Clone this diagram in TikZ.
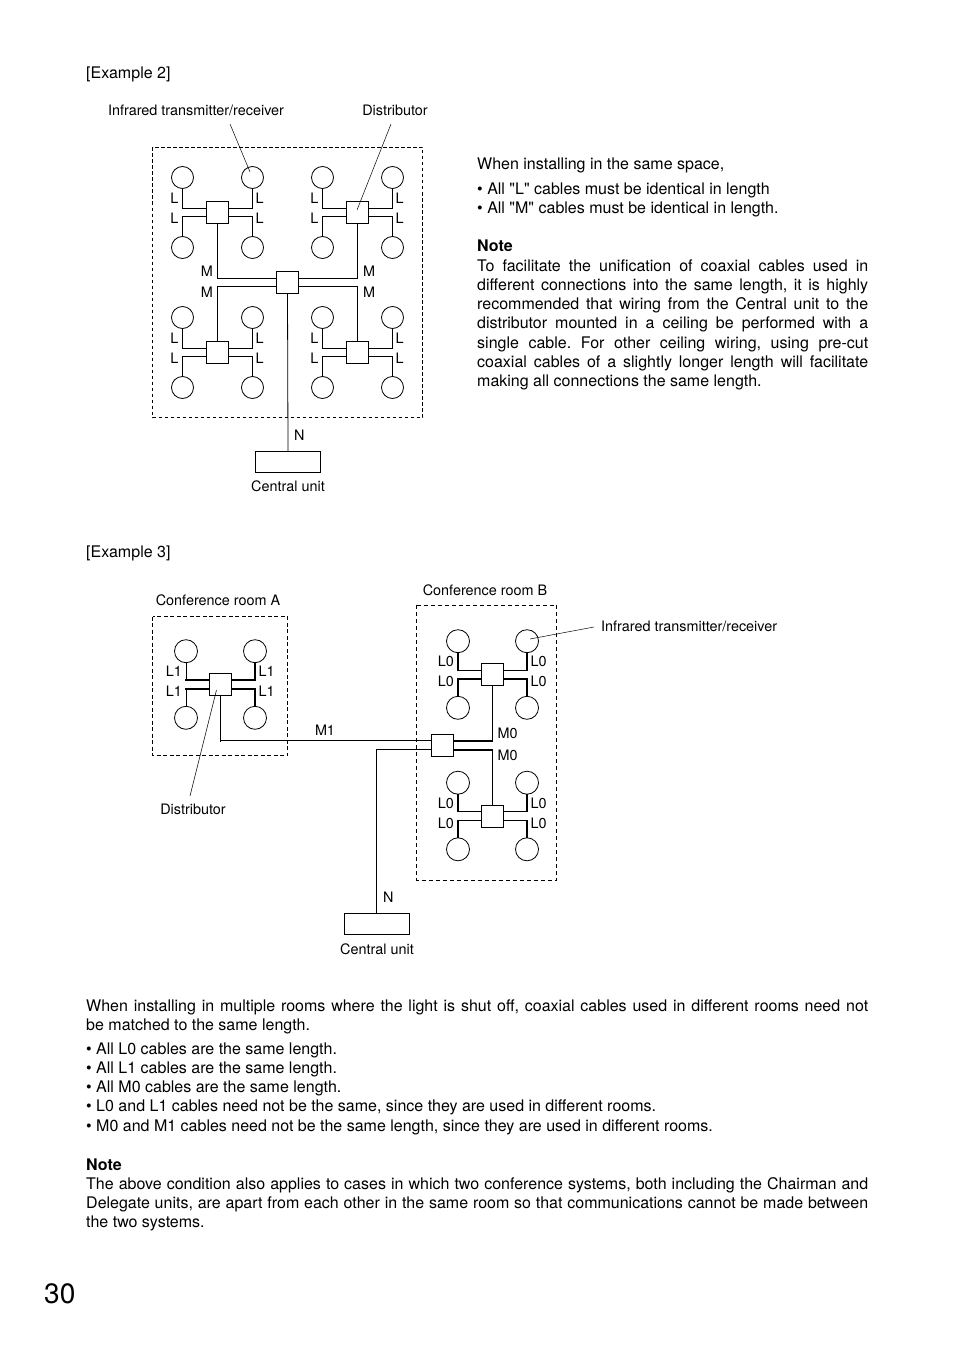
\documentclass[tikz,border=0pt]{standalone}
\usepackage{fontspec}
\setmainfont{TeX Gyre Heros}
\usetikzlibrary{positioning}
\frenchspacing
\begin{document}
\begin{tikzpicture}[x=1pt,y=-1pt,
  ir/.style={draw,circle,minimum size=22pt,inner sep=0pt,line width=0.8pt},
  irb/.style={ir,minimum size=23pt},
  dist/.style={draw,minimum size=22pt,inner sep=0pt,line width=0.8pt},
  cunit/.style={draw,minimum width=65pt,minimum height=21pt,inner sep=0pt,line width=0.8pt},
  thk/.style={line width=1.7pt,line cap=rect},
  thn/.style={line width=0.8pt},
  ptr/.style={line width=0.5pt},
  lbl/.style={inner sep=0pt,font=\fontsize{14.4}{17}\selectfont},
  body/.style={inner sep=0pt,font=\fontsize{16}{19.3}\selectfont\frenchspacing,anchor=base west},
  room/.style={dash pattern=on 3.5pt off 2.5pt,line width=1.2pt},
  rooma/.style={dash pattern=on 4pt off 2.5pt,line width=1.8pt},
  roomb/.style={dash pattern=on 4pt off 3pt,line width=0.8pt}]
\useasboundingbox (0,0) rectangle (954,1351);

% Example 2
\node[body] (ex2) at (86,79) {[Example 2]};
\node[lbl,anchor=base] (e2irlab) at (196,116) {Infrared transmitter/receiver};
\node[lbl,anchor=base] (e2dlab) at (395,116) {Distributor};
\draw[room] (152.5,147.5) rectangle (422.5,417.5);

\foreach \k/\x/\y in {a/217.5/212.5,b/357.5/212.5,c/217.5/352.5,d/357.5/352.5}{
  \node[dist] (\k0) at (\x,\y) {};
  \node[ir] (\k1) at (\x-35,\y-35) {};
  \node[ir] (\k2) at (\x+35,\y-35) {};
  \node[ir] (\k3) at (\x-35,\y+35) {};
  \node[ir] (\k4) at (\x+35,\y+35) {};
  \coordinate (\k U) at ([yshift=4pt]\k0.center);
  \coordinate (\k D) at ([yshift=-4pt]\k0.center);
  \draw[thk] (\k1.south) |- (\k U -| \k0.west);
  \draw[thk] (\k2.south) |- (\k U -| \k0.east);
  \draw[thk] (\k3.north) |- (\k D -| \k0.west);
  \draw[thk] (\k4.north) |- (\k D -| \k0.east);
  \node[lbl,anchor=east] (\k L1) at (\x-39,\y-14) {L};
  \node[lbl,anchor=east] (\k L3) at (\x-39,\y+6) {L};
  \node[lbl,anchor=west] (\k L2) at (\x+38,\y-14) {L};
  \node[lbl,anchor=west] (\k L4) at (\x+38,\y+6) {L};
}

\node[dist] (e2m) at (287.5,282.5) {};
\coordinate (mU) at ([yshift=4pt]e2m.center);
\coordinate (mD) at ([yshift=-4pt]e2m.center);
\draw[thn] (a0.south) -- (a0.south |- mU);
\draw[thk] (a0.south |- mU) -- (mU -| e2m.west);
\draw[thn] (b0.south) -- (b0.south |- mU);
\draw[thk] (b0.south |- mU) -- (mU -| e2m.east);
\draw[thk] (c0.north) |- (mD -| e2m.west);
\draw[thn] (d0.north) -- (d0.north |- mD);
\draw[thk] (d0.north |- mD) -- (mD -| e2m.east);
\node[lbl,anchor=east] (mla) at (213,271.5) {M};
\node[lbl,anchor=east] (mlc) at (213,292.3) {M};
\node[lbl,anchor=west] (mlb) at (363,271.5) {M};
\node[lbl,anchor=west] (mld) at (363,292.3) {M};

\node[cunit] (cu2) at (288,461.7) {};
\draw[thn] (e2m.south) -- (cu2.north);
\node[lbl,anchor=west] (n2) at (294,435) {N};
\node[lbl,anchor=base] (cu2lab) at (288,491) {Central unit};

\coordinate (e2irp) at (230,124);
\draw[ptr] (e2irp) -- ([shift={(-2.5pt,5.5pt)}]a2.center);
\coordinate (e2dp) at (391,124);
\draw[ptr] (e2dp) -- ([shift={(-0.5pt,2.5pt)}]b0.center);

% text beside example 2
\node[body] (t1) at (477,170) {When installing in the same space,};
\node[body] (t2) at (477,194) {• All \textquotedbl L\textquotedbl{} cables must be identical in length};
\node[body] (t3) at (477,213) {• All \textquotedbl M\textquotedbl{} cables must be identical in length.};
\node[body,font=\fontsize{16}{19.3}\selectfont\bfseries] (t4) at (477,251) {Note};
\node[body,text width=391pt,align=justify] (t5) at (477,271) {To facilitate the unification of coaxial cables used in\linebreak
 different connections into the same length, it is highly\linebreak
 recommended that wiring from the Central unit to the\linebreak
 distributor mounted in a ceiling be performed with a\linebreak
 single cable. For other ceiling wiring, using pre-cut\linebreak
 coaxial cables of a slightly longer length will facilitate\linebreak
 making all connections the same length.};

% Example 3
\node[body] (ex3) at (86,557) {[Example 3]};
\node[lbl,anchor=base] (ralab) at (218,605) {Conference room A};
\node[lbl,anchor=base] (rblab) at (485,595) {Conference room B};
\draw[rooma] (152.5,616.5) rectangle (287.5,755.5);
\draw[roomb] (416.5,605) rectangle (556.5,880);

\foreach \k/\x/\y/\t/\ha/\vl in {e/220.5/684.5/L1/thk/thn,f/492.5/674.5/L0/thn/thk,g/492.5/816/L0/thn/thk}{
  \node[dist] (\k0) at (\x,\y) {};
  \node[irb] (\k1) at (\x-34.5,\y-33.3) {};
  \node[irb] (\k2) at (\x+34.5,\y-33.3) {};
  \node[irb] (\k3) at (\x-34.5,\y+33.3) {};
  \node[irb] (\k4) at (\x+34.5,\y+33.3) {};
  \coordinate (\k U) at ([yshift=4.5pt]\k0.center);
  \coordinate (\k D) at ([yshift=-4.5pt]\k0.center);
  \draw[\vl] (\k1.south) -- (\k1.south |- \k U);
  \draw[\ha] (\k1.south |- \k U) -- (\k U -| \k0.west);
  \draw[thk] (\k2.south) -- (\k2.south |- \k U);
  \draw[\ha] (\k2.south |- \k U) -- (\k U -| \k0.east);
  \draw[\vl] (\k3.north) -- (\k3.north |- \k D);
  \draw[thk] (\k3.north |- \k D) -- (\k D -| \k0.west);
  \draw[thk] (\k4.north) |- (\k D -| \k0.east);
  \node[lbl,anchor=east] (\k L1) at (\x-38.5,\y-13) {\t};
  \node[lbl,anchor=east] (\k L3) at (\x-38.5,\y+7) {\t};
  \node[lbl,anchor=west] (\k L2) at (\x+38,\y-13) {\t};
  \node[lbl,anchor=west] (\k L4) at (\x+38,\y+7) {\t};
}

\node[dist] (h0) at (442.5,745.2) {};
\coordinate (hU) at ([yshift=4.5pt]h0.center);
\coordinate (hD) at ([yshift=-4.5pt]h0.center);
\draw[thn] (f0.south) -- (f0.south |- hU);
\draw[thk] (f0.south |- hU) -- (hU -| h0.east);
\draw[thk] (hD -| h0.east) -- (hD -| g0.north);
\draw[thn] (hD -| g0.north) -- (g0.north);
\draw[thk] (e0.south) -- (e0.south |- hU);
\draw[thn] (e0.south |- hU) -- (hU -| h0.west);
\node[lbl] (m1) at (325,730) {M1};
\node[lbl,anchor=west] (m0a) at (497.5,733) {M0};
\node[lbl,anchor=west] (m0b) at (497.5,755) {M0};

\node[cunit] (cu3) at (376.8,924.2) {};
\draw[thn] (hD -| h0.west) -| (cu3.north);
\node[lbl,anchor=west] (n3) at (383,897) {N};
\node[lbl,anchor=base] (cu3lab) at (377,954) {Central unit};

\node[lbl,anchor=base west] (e3irlab) at (601,631) {Infrared transmitter/receiver};
\coordinate (e3irp) at (594,627);
\draw[ptr] (e3irp) -- ([shift={(3pt,2.2pt)}]f2.center);
\node[lbl,anchor=base] (e3dlab) at (193,814) {Distributor};
\coordinate (e3dp) at (190,796);
\draw[ptr] (e3dp) -- ([shift={(-4pt,-5.5pt)}]e0.center);

% text below example 3
\node[body,text width=782pt,align=justify] (b1) at (86,1011) {When installing in multiple rooms where the light is shut off, coaxial cables used in different rooms need not\linebreak
 be matched to the same length.};
\node[body] (b2a) at (86,1054) {• All L0 cables are the same length.};
\node[body] (b2b) at (86,1073.3) {• All L1 cables are the same length.};
\node[body] (b2c) at (86,1092.6) {• All M0 cables are the same length.};
\node[body] (b2d) at (86,1111.9) {• L0 and L1 cables need not be the same, since they are used in different rooms.};
\node[body] (b2e) at (86,1131.2) {• M0 and M1 cables need not be the same length, since they are used in different rooms.};
\node[body,font=\fontsize{16}{19.3}\selectfont\bfseries] (b3) at (86,1170) {Note};
\node[body,text width=782pt,align=justify] (b4) at (86,1189) {The above condition also applies to cases in which two conference systems, both including the Chairman and\linebreak
 Delegate units, are apart from each other in the same room so that communications cannot be made between\linebreak
 the two systems.};

\node[anchor=base west,inner sep=0pt,font=\fontsize{28}{30}\selectfont] (pg) at (44,1303) {30};
\end{tikzpicture}
\end{document}
